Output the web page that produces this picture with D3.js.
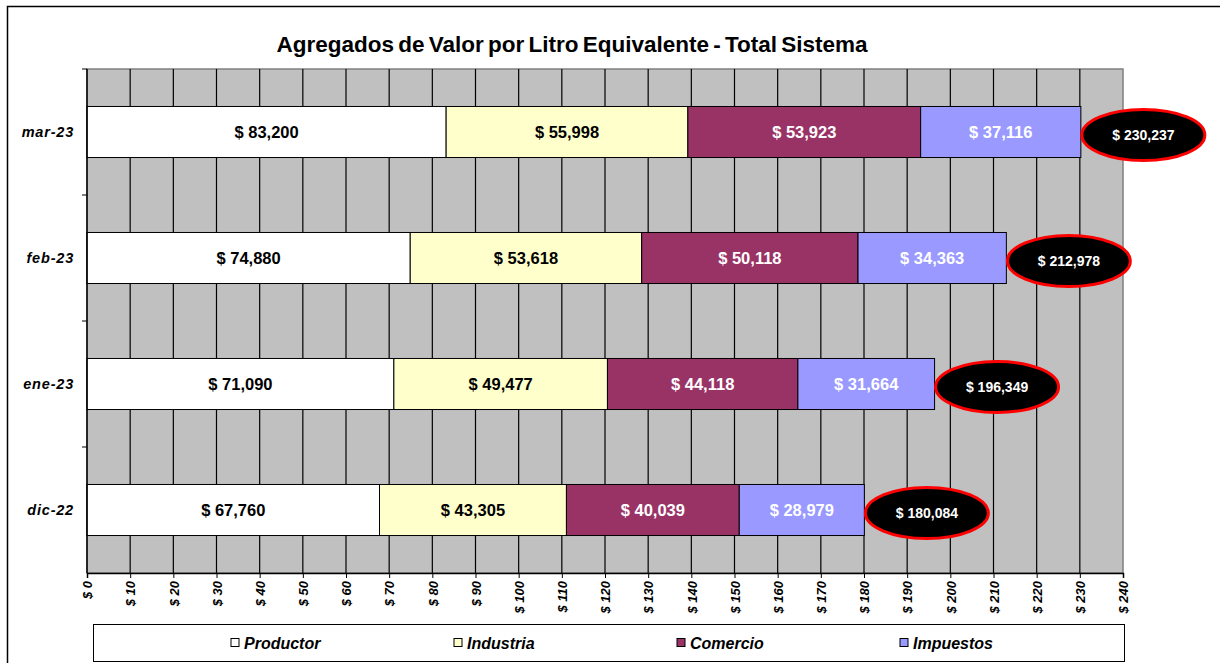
<!DOCTYPE html>
<html>
<head>
<meta charset="utf-8">
<script src="https://cdn.jsdelivr.net/npm/d3@7"></script>
<style>
  body { margin: 0; background: #fff; }
  svg { font-family: Arial, "Liberation Sans", sans-serif; }
</style>
</head>
<body>
<script>
// data (thousands of $ per litre)
const months = ['mar-23', 'feb-23', 'ene-23', 'dic-22'];
const series = ['Productor', 'Industria', 'Comercio', 'Impuestos'];
const productor = [83.200, 74.880, 71.090, 67.760];
const industria = [55.998, 53.618, 49.477, 43.305];
const comercio = [53.923, 50.118, 44.118, 40.039];
const impuestos = [37.116, 34.363, 31.664, 28.979];
const totals = [230.237, 212.978, 196.349, 180.084];
const xTicks = d3.range(0, 241, 10);

const colors = { Productor: '#ffffff', Industria: '#ffffcc', Comercio: '#993366', Impuestos: '#9999ff' };
const textColors = { Productor: '#000', Industria: '#000', Comercio: '#fff', Impuestos: '#fff' };

const W = 1220, H = 663;
const plot = { left: 87, right: 1123, top: 69, bottom: 573 };

const rows = months.map((m, i) => ({
    month: m, Productor: productor[i], Industria: industria[i],
    Comercio: comercio[i], Impuestos: impuestos[i], total: totals[i]
}));

const fmt = v => '$ ' + d3.format(',')(Math.round(v * 1000));

const svg = d3.select('body').append('svg')
    .attr('width', W).attr('height', H);

// outer frame
svg.append('rect')
    .attr('x', 7.5).attr('y', 6.5)
    .attr('width', W + 20).attr('height', H + 20)
    .attr('fill', '#fff').attr('stroke', '#000').attr('stroke-width', 1.5);

const x = d3.scaleLinear().domain([0, 240]).range([plot.left, plot.right]);
const y = d3.scaleBand().domain(months).range([plot.top, plot.bottom]).paddingInner(0.595).paddingOuter(0.2975);
const yFull = d3.scaleBand().domain(months).range([plot.top, plot.bottom]);

// plot background
svg.append('rect')
    .attr('x', plot.left).attr('y', plot.top)
    .attr('width', plot.right - plot.left).attr('height', plot.bottom - plot.top)
    .attr('fill', '#c0c0c0').attr('stroke', '#808080').attr('stroke-width', 1.5);

// vertical gridlines
svg.append('g').selectAll('line')
    .data(xTicks.filter(t => t > 0 && t < 240))
    .enter().append('line')
    .attr('x1', d => x(d)).attr('x2', d => x(d))
    .attr('y1', plot.top).attr('y2', plot.bottom)
    .attr('stroke', '#000').attr('stroke-width', 1.2);

// stacked bars
const stack = d3.stack().keys(series)(rows);
const layers = svg.append('g').selectAll('g')
    .data(stack).enter().append('g');

layers.selectAll('rect')
    .data(d => d.map(v => Object.assign(v, { key: d.key })))
    .enter().append('rect')
    .attr('x', d => x(d[0]))
    .attr('y', d => y(d.data.month))
    .attr('width', d => x(d[1]) - x(d[0]))
    .attr('height', y.bandwidth())
    .attr('fill', d => colors[d.key])
    .attr('stroke', '#000').attr('stroke-width', 1);

layers.selectAll('text')
    .data(d => d)
    .enter().append('text')
    .attr('x', d => (x(d[0]) + x(d[1])) / 2)
    .attr('y', d => y(d.data.month) + y.bandwidth() / 2)
    .attr('dy', '0.36em')
    .attr('text-anchor', 'middle')
    .style('font-size', '16.5px').style('font-weight', 'bold')
    .attr('fill', d => textColors[d.key])
    .text(d => fmt(d[1] - d[0]));

// total ellipses
const tot = svg.append('g').selectAll('g').data(rows).enter().append('g');
tot.append('ellipse')
    .attr('cx', d => x(d.total) + 62.5)
    .attr('cy', d => y(d.month) + y.bandwidth() / 2 + 3)
    .attr('rx', 61.5).attr('ry', 25.5)
    .attr('fill', '#000').attr('stroke', '#ff0000').attr('stroke-width', 3);
tot.append('text')
    .attr('x', d => x(d.total) + 62.5)
    .attr('y', d => y(d.month) + y.bandwidth() / 2 + 3)
    .attr('dy', '0.36em')
    .attr('text-anchor', 'middle')
    .attr('fill', '#fff')
    .style('font-size', '14px').style('font-weight', 'bold')
    .text(d => fmt(d.total));

// x axis
const xAxis = svg.append('g')
    .attr('transform', `translate(0,${plot.bottom})`)
    .call(d3.axisBottom(x).tickValues(xTicks).tickSize(5).tickFormat(d => '$ ' + d));
xAxis.select('.domain').attr('stroke', '#000').attr('stroke-width', 1.5);
xAxis.selectAll('.tick line').attr('stroke', '#000');
xAxis.selectAll('.tick text')
    .attr('transform', 'rotate(-90)')
    .attr('text-anchor', 'end')
    .attr('x', -8).attr('y', 0).attr('dy', '0.36em')
    .attr('fill', '#000')
    .style('font-family', 'Arial, "Liberation Sans", sans-serif')
    .style('font-size', '13px').style('font-weight', 'bold').style('font-style', 'italic');

// y axis
svg.append('line')
    .attr('x1', plot.left).attr('x2', plot.left)
    .attr('y1', plot.top).attr('y2', plot.bottom)
    .attr('stroke', '#000').attr('stroke-width', 1.5);
svg.append('g').selectAll('line')
    .data(months)
    .enter().append('line')
    .attr('x1', plot.left - 5).attr('x2', plot.left)
    .attr('y1', d => yFull(d)).attr('y2', d => yFull(d))
    .attr('stroke', '#000');
svg.append('g').selectAll('text')
    .data(months)
    .enter().append('text')
    .attr('x', 74)
    .attr('y', d => y(d) + y.bandwidth() / 2)
    .attr('dy', '0.36em')
    .attr('text-anchor', 'end')
    .style('font-size', '14.5px').style('font-weight', 'bold').style('font-style', 'italic')
    .style('letter-spacing', '0.8px')
    .text(d => d);

// title
svg.append('text')
    .attr('x', 572).attr('y', 52)
    .attr('text-anchor', 'middle')
    .style('font-size', '22.5px').style('font-weight', 'bold')
    .style('word-spacing', '-2px')
    .text('Agregados de Valor por Litro Equivalente - Total Sistema');

// legend
svg.append('rect')
    .attr('x', 93.5).attr('y', 624.5).attr('width', 1031).attr('height', 37)
    .attr('fill', '#fff').attr('stroke', '#000').attr('stroke-width', 1);
const lx = d3.scalePoint().domain(series).range([231, 900]);
const leg = svg.append('g').selectAll('g').data(series).enter().append('g')
    .attr('transform', d => `translate(${lx(d)},643)`);
leg.append('rect')
    .attr('x', 0).attr('y', -4.5).attr('width', 8).attr('height', 8)
    .attr('fill', d => colors[d]).attr('stroke', '#000');
leg.append('text')
    .attr('x', 13).attr('dy', '0.36em')
    .style('font-size', '16px').style('font-weight', 'bold').style('font-style', 'italic')
    .text(d => d);
</script>
</body>
</html>
